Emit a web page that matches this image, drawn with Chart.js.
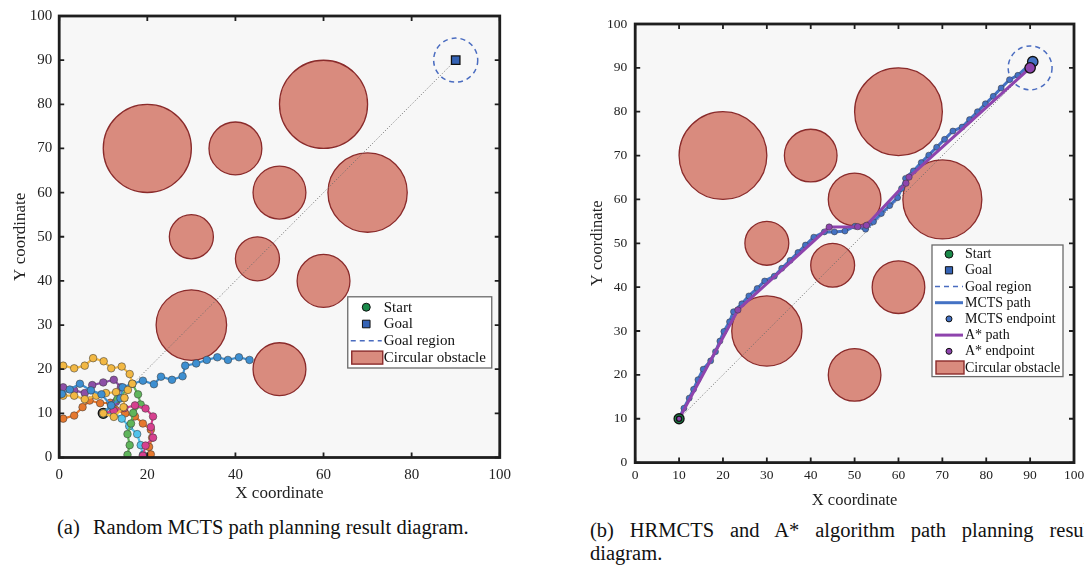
<!DOCTYPE html>
<html>
<head>
<meta charset="utf-8">
<script src="https://cdn.jsdelivr.net/npm/chart.js@4"></script>
<style>
  html, body { margin: 0; padding: 0; background: #fff; overflow: hidden; width: 1084px; height: 567px; }
  .panel { position: absolute; }
  #panelA { left: 0; top: 0; width: 520px; height: 510px; }
  #panelB { left: 560px; top: 0; width: 540px; height: 515px; }
  .caption { position: absolute; font-family: 'Liberation Serif', serif; font-size: 20.5px; line-height: 24px; color: #111; white-space: nowrap; }
  #capA { left: 57px; top: 515px; }
  #capA span { margin-right: 8px; }
  #capB1 { left: 590px; top: 518px; width: 505px; white-space: normal; text-align: justify; text-align-last: justify; }
  #capB2 { left: 590px; top: 541px; }
</style>
</head>
<body>
<div class="panel" id="panelA"><canvas id="chartA"></canvas></div>
<div class="panel" id="panelB"><canvas id="chartB"></canvas></div>
<div class="caption" id="capA"><span>(a)</span> Random MCTS path planning result diagram.</div>
<div class="caption" id="capB1">(b) HRMCTS and A* algorithm path planning result</div>
<div class="caption" id="capB2">diagram.</div>
<script>
// obstacle field (same map in both panels)
const obstacleX = [20, 40, 60, 70, 50, 30, 45, 60, 30, 50];
const obstacleY = [70, 70, 80, 60, 60, 50, 45, 40, 30, 20];
const obstacleR = [10, 6, 10, 9, 6, 5, 5, 6, 8, 6];
const startPoint = [10, 10];
const goalPoint = [90, 90];
const goalRadius = 5;

// random MCTS rollouts
const walkBlue = [[10, 10], [11.8, 11.8], [13.9, 13.4], [14.4, 15.9], [16.6, 16.7], [19.0, 17.4], [21.5, 16.6], [23.1, 18.3], [25.6, 17.6], [28.0, 18.4], [28.6, 20.8], [31.1, 21.3], [33.5, 22.1], [35.9, 22.7], [38.3, 22.1], [40.8, 22.7], [43.2, 22.1]];
const walkBlueLeft = [[11.8, 11.8], [9.6, 14.3], [7.2, 15.2], [4.7, 16.7], [2.4, 15.4], [0.6, 14.4]];
const walkYellow = [[10, 10], [12.4, 9.2], [14.6, 11.4], [14.8, 13.5], [15.6, 15.3], [16.6, 16.7], [16.0, 18.9], [14.2, 20.6], [11.8, 20.2], [10.1, 21.8], [7.7, 22.5], [5.8, 20.8], [3.4, 20.2], [0.9, 20.8]];
const walkYellowLow = [[14.8, 13.5], [12.9, 14.8], [10.6, 14.6], [8.4, 14.0], [5.8, 13.2], [3.4, 14.0], [0.9, 14.0]];
const walkPurple = [[10, 10], [12.9, 12.6], [14.0, 15.9], [12.4, 17.6], [10.0, 17.0], [7.5, 16.4], [5.8, 14.6], [3.4, 15.2], [0.9, 15.9]];
const walkOrange = [[0.9, 8.8], [3.4, 9.5], [5.3, 11.4], [6.9, 12.9], [9.3, 12.3], [11.6, 12.4], [12.8, 10.8], [15.0, 10.0], [17.2, 9.3], [19.0, 7.7], [20.8, 6.3], [21.1, 4.5], [20.4, 2.4], [20.8, 0.7]];
const walkGreen = [[10, 10], [13.2, 13.2], [16.6, 16.7], [17.9, 14.3], [18.5, 12.0], [16.8, 10.1], [16.3, 7.7], [15.5, 5.3], [16.0, 2.8], [15.5, 0.6]];
const walkCyan = [[10, 10], [12.2, 10.4], [14.2, 8.8], [15.9, 7.1], [17.7, 5.3], [18.5, 2.8], [19.0, 0.6]];
const walkMagenta = [[10, 10], [12.4, 10.6], [14.8, 11.2], [17.2, 11.8], [19.6, 11.1], [21.3, 9.3], [20.8, 6.9], [21.3, 4.5], [19.6, 2.7], [19.0, 0.4]];

// HRMCTS and A* results
const mctsPath = [[10, 10], [11.1, 12.4], [12.3, 14.7], [13.3, 16.7], [14.3, 18.9], [15.5, 21.3], [17.2, 23.2], [18.3, 25.3], [19.3, 27.7], [20.2, 29.9], [21.5, 32.1], [22.4, 34.4], [24.3, 36.2], [25.9, 38.0], [27.8, 39.7], [29.5, 41.4], [31.7, 42.5], [33.4, 44.3], [35.3, 46.1], [37.1, 47.9], [38.8, 49.6], [40.7, 51.4], [43.1, 52.6], [45.4, 52.6], [47.8, 52.8], [50.1, 53.9], [52.5, 53.2], [54.3, 54.9], [56.1, 56.8], [58.0, 58.6], [59.8, 60.4], [60.7, 62.5], [61.6, 64.8], [63.4, 66.5], [65.2, 68.4], [66.9, 70.1], [68.7, 71.9], [70.5, 73.7], [72.4, 75.6], [74.5, 76.5], [76.2, 78.2], [78.0, 80.0], [79.8, 81.8], [81.6, 83.5], [83.4, 85.4], [85.3, 87.3], [87.2, 88.3], [90.6, 91.4]];
const astarPath = [[10, 10], [23.4, 34.8], [44.2, 53.7], [50.7, 53.8], [52.7, 54.1], [61.7, 63.7], [62.4, 65.1], [90, 90]];
const mctsEnd = [90.6, 91.4];
const astarEnd = [90, 90];

const SERIF = "'Liberation Serif', 'Times New Roman', serif";
const pts = list => list.map(p => ({ x: p[0], y: p[1] }));

function unitsToPx(chart, r) {
  const s = chart.scales.x;
  return Math.abs(s.getPixelForValue(r) - s.getPixelForValue(0));
}

// light grey plot area, boxed frame with inward ticks on all four sides
const frameTicks = {
  id: 'frameTicks',
  beforeDraw(chart) {
    const { ctx, chartArea: a } = chart;
    ctx.save();
    ctx.fillStyle = '#f7f7f7';
    ctx.fillRect(a.left, a.top, a.width, a.height);
    ctx.restore();
  },
  afterDraw(chart) {
    const { ctx, chartArea: a, scales: { x, y } } = chart;
    const len = 5;
    ctx.save();
    ctx.strokeStyle = '#1e1e1e';
    ctx.lineWidth = 1.8;
    ctx.beginPath();
    x.ticks.forEach(t => {
      const px = x.getPixelForValue(t.value);
      ctx.moveTo(px, a.bottom); ctx.lineTo(px, a.bottom - len);
      ctx.moveTo(px, a.top); ctx.lineTo(px, a.top + len);
    });
    y.ticks.forEach(t => {
      const py = y.getPixelForValue(t.value);
      ctx.moveTo(a.left, py); ctx.lineTo(a.left + len, py);
      ctx.moveTo(a.right, py); ctx.lineTo(a.right - len, py);
    });
    ctx.stroke();
    ctx.lineWidth = 2.8;
    ctx.strokeRect(a.left, a.top, a.width, a.height);
    ctx.restore();
  }
};

// dashed goal region circle
const goalRegion = {
  id: 'goalRegion',
  afterDatasetsDraw(chart) {
    const { ctx, scales: { x, y } } = chart;
    ctx.save();
    ctx.strokeStyle = '#4a6cc0';
    ctx.lineWidth = 1.5;
    ctx.setLineDash([5, 4]);
    ctx.beginPath();
    ctx.arc(x.getPixelForValue(goalPoint[0]), y.getPixelForValue(goalPoint[1]), unitsToPx(chart, goalRadius), 0, Math.PI * 2);
    ctx.stroke();
    ctx.restore();
  }
};

// legend box placed inside the plot, lower right
const boxLegend = {
  id: 'boxLegend',
  afterDraw(chart, args, opts) {
    const { ctx, chartArea: a } = chart;
    const h = opts.items.length * opts.rowHeight + opts.pad * 2;
    const left = a.right - opts.right - opts.width;
    const top = a.bottom - opts.bottom - h;
    ctx.save();
    ctx.fillStyle = '#fff';
    ctx.fillRect(left, top, opts.width, h);
    ctx.strokeStyle = '#6a6a6a';
    ctx.lineWidth = 1.3;
    ctx.strokeRect(left, top, opts.width, h);
    ctx.font = opts.font;
    ctx.textBaseline = 'middle';
    opts.items.forEach((it, i) => {
      const cy = top + opts.pad + opts.rowHeight * (i + 0.5);
      const x0 = left + 3, x1 = left + opts.sample;
      const cx = (x0 + x1) / 2;
      ctx.setLineDash([]);
      if (it.kind === 'circle' || it.kind === 'square') {
        ctx.fillStyle = it.color;
        ctx.strokeStyle = '#111';
        ctx.lineWidth = 1;
        ctx.beginPath();
        if (it.kind === 'circle') ctx.arc(cx, cy, it.size, 0, Math.PI * 2);
        else ctx.rect(cx - it.size, cy - it.size, it.size * 2, it.size * 2);
        ctx.fill();
        ctx.stroke();
      } else if (it.kind === 'dash' || it.kind === 'line') {
        ctx.strokeStyle = it.color;
        ctx.lineWidth = it.width;
        if (it.kind === 'dash') ctx.setLineDash([5, 4]);
        ctx.beginPath();
        ctx.moveTo(x0, cy);
        ctx.lineTo(x1, cy);
        ctx.stroke();
        ctx.setLineDash([]);
      } else if (it.kind === 'rect') {
        ctx.fillStyle = '#d98b7e';
        ctx.strokeStyle = '#8a2b2b';
        ctx.lineWidth = 1.4;
        ctx.fillRect(x0 + 1, cy - 6.5, x1 - x0, 13);
        ctx.strokeRect(x0 + 1, cy - 6.5, x1 - x0, 13);
      }
      ctx.fillStyle = '#111';
      ctx.fillText(it.text, x1 + 2, cy + 0.5);
    });
    ctx.restore();
  }
};

function obstacleDataset() {
  return {
    data: obstacleX.map((x, i) => ({ x, y: obstacleY[i], r: obstacleR[i] })),
    pointRadius: c => (c.raw ? unitsToPx(c.chart, c.raw.r) : 0),
    pointHoverRadius: c => (c.raw ? unitsToPx(c.chart, c.raw.r) : 0),
    pointBackgroundColor: '#d98b7e',
    pointBorderColor: '#8a2b2b',
    pointBorderWidth: 1.3,
    order: 20
  };
}

function sightLine() {
  return {
    data: pts([startPoint, goalPoint]),
    showLine: true,
    borderColor: '#6b6b6b',
    borderWidth: 1,
    borderDash: [1, 2],
    pointRadius: 0,
    order: 15
  };
}

function walkDataset(list, color, width, radius, order) {
  return {
    data: pts(list),
    showLine: true,
    borderColor: color,
    borderWidth: width,
    pointRadius: radius,
    pointBackgroundColor: color,
    pointBorderColor: 'rgba(60,60,60,0.7)',
    pointBorderWidth: 0.8,
    order: order
  };
}

function marker(point, style, color, radius, order) {
  return {
    data: pts([point]),
    pointStyle: style,
    pointRadius: radius,
    pointBackgroundColor: color,
    pointBorderColor: '#111',
    pointBorderWidth: 1.3,
    order: order
  };
}

function axes(cfg) {
  const tickFont = { family: SERIF, size: cfg.tickSize };
  const titleFont = { family: SERIF, size: cfg.titleSize };
  return {
    x: {
      type: 'linear', min: 0, max: 100,
      grid: { display: false, drawTicks: false },
      border: { display: false },
      ticks: { stepSize: cfg.xStep, font: tickFont, color: '#222', padding: cfg.xPad, maxRotation: 0, autoSkip: false },
      title: { display: true, text: 'X coordinate', font: titleFont, color: '#222', padding: { top: 0, bottom: cfg.xTitlePad } },
      afterFit: s => { s.height = cfg.xHeight; }
    },
    y: {
      type: 'linear', min: 0, max: 100,
      grid: { display: false, drawTicks: false },
      border: { display: false },
      ticks: { stepSize: 10, font: tickFont, color: '#222', padding: cfg.yPad, autoSkip: false },
      title: { display: true, text: 'Y coordinate', font: titleFont, color: '#222', padding: { top: cfg.yTitlePad, bottom: 0 } },
      afterFit: s => { s.width = cfg.yWidth; }
    }
  };
}

const common = {
  responsive: true,
  maintainAspectRatio: false,
  animation: false,
  events: [],
  plugins: { legend: { display: false }, tooltip: { enabled: false } }
};

new Chart(document.getElementById('chartA'), {
  type: 'scatter',
  data: {
    datasets: [
      obstacleDataset(),
      sightLine(),
      marker(startPoint, 'circle', '#1a8a4a', 5, 12),
      walkDataset(walkOrange, '#e6782e', 2.2, 3.8, 9),
      walkDataset(walkYellowLow, '#f2b843', 2.2, 3.8, 8),
      walkDataset(walkPurple, '#8d4fa6', 2.2, 3.8, 8),
      walkDataset(walkBlueLeft, '#3d8fd1', 2.2, 3.8, 7),
      walkDataset(walkGreen, '#5fb55a', 2.2, 3.8, 6),
      walkDataset(walkCyan, '#52c3ec', 2.2, 3.8, 6),
      walkDataset(walkMagenta, '#d6408f', 2.2, 3.8, 5),
      walkDataset(walkBlue, '#3d8fd1', 2.2, 3.8, 4),
      walkDataset(walkYellow, '#f2b843', 2.2, 3.8, 3),
      marker(goalPoint, 'rect', '#3563b5', 6, 1)
    ]
  },
  options: {
    ...common,
    layout: { padding: { top: 12.5, right: 15, left: 0, bottom: 0 } },
    scales: axes({ xStep: 20, tickSize: 15, titleSize: 17, xPad: 9, xTitlePad: 6, xHeight: 52.5, yPad: 7, yTitlePad: 10, yWidth: 59.2 }),
    plugins: {
      ...common.plugins,
      boxLegend: {
        right: 8, bottom: 89.5, width: 144, rowHeight: 16.8, pad: 2, sample: 34,
        font: '15px ' + SERIF,
        items: [
          { kind: 'circle', color: '#1a8a4a', size: 4, text: 'Start' },
          { kind: 'square', color: '#3563b5', size: 3.8, text: 'Goal' },
          { kind: 'dash', color: '#4a6cc0', width: 1.5, text: 'Goal region' },
          { kind: 'rect', text: 'Circular obstacle' }
        ]
      }
    }
  },
  plugins: [frameTicks, goalRegion, boxLegend]
});

new Chart(document.getElementById('chartB'), {
  type: 'scatter',
  data: {
    datasets: [
      obstacleDataset(),
      sightLine(),
      walkDataset(mctsPath, '#4472c4', 3, 3, 6),
      walkDataset(astarPath, '#8e44ad', 3, 3.2, 5),
      marker(startPoint, 'circle', '#1a8a4a', 5, 4),
      marker(startPoint, 'circle', '#8e44ad', 2.6, 3),
      marker(mctsEnd, 'circle', '#4472c4', 5.2, 2),
      marker(astarEnd, 'circle', '#8e44ad', 5.2, 1)
    ]
  },
  options: {
    ...common,
    layout: { padding: { top: 24, right: 26, left: 0, bottom: 0 } },
    scales: axes({ xStep: 10, tickSize: 13.5, titleSize: 16.5, xPad: 5, xTitlePad: 4, xHeight: 52.4, yPad: 8, yTitlePad: 28, yWidth: 75.2 }),
    plugins: {
      ...common.plugins,
      boxLegend: {
        right: 11, bottom: 86, width: 131, rowHeight: 16.2, pad: 1, sample: 31,
        font: '14px ' + SERIF,
        items: [
          { kind: 'circle', color: '#1a8a4a', size: 4, text: 'Start' },
          { kind: 'square', color: '#3563b5', size: 3.6, text: 'Goal' },
          { kind: 'dash', color: '#4a6cc0', width: 1.5, text: 'Goal region' },
          { kind: 'line', color: '#4472c4', width: 3, text: 'MCTS path' },
          { kind: 'circle', color: '#4472c4', size: 3, text: 'MCTS endpoint' },
          { kind: 'line', color: '#8e44ad', width: 3, text: 'A* path' },
          { kind: 'circle', color: '#8e44ad', size: 3, text: 'A* endpoint' },
          { kind: 'rect', text: 'Circular obstacle' }
        ]
      }
    }
  },
  plugins: [frameTicks, goalRegion, boxLegend]
});
</script>
</body>
</html>
